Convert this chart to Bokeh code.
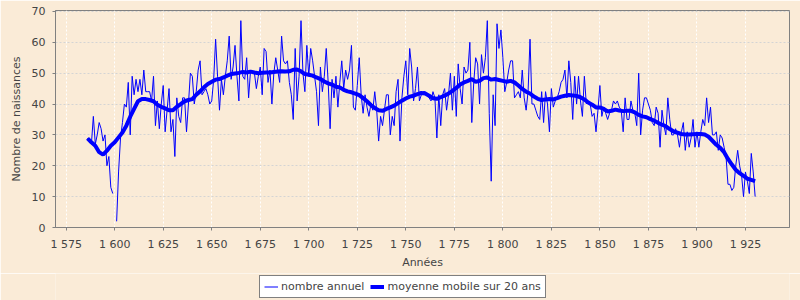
import math
from bokeh.plotting import figure
from bokeh.layouts import column
from bokeh.models import (ColumnDataSource, Range1d, FixedTicker, Legend, LegendItem)
from bokeh.embed import file_html
from bokeh.resources import INLINE

nan = float("nan")

# Annual number of births, 1586..1930 (1600 missing)
first_year = 1586
births = [
    29, 28, 27, 36,                              # 1586-1589
    27, 30, 34, 32, 28, 30, 20, 23, 13, 11,      # 1590s
    nan, 2, 18, 29, 34, 40, 39, 47, 30, 49,      # 1600s
    43, 48, 44, 48, 43, 51, 44, 44, 44, 41,      # 1610s
    49, 33, 41, 32, 40, 46, 31, 38, 45, 31,      # 1620s
    35, 23, 42, 36, 34, 42, 42, 31, 40, 50,      # 1630s
    49, 40, 44, 51, 54, 43, 44, 45, 43, 40,      # 1640s
    41, 48, 61, 49, 38, 48, 43, 49, 54, 62,      # 1650s
    48, 52, 59, 49, 41, 67, 49, 48, 55, 42,      # 1660s
    51, 50, 50, 45, 49, 52, 43, 58, 57, 47,      # 1670s
    51, 40, 50, 55, 51, 47, 62, 54, 53, 54,      # 1680s
    47, 43, 35, 58, 41, 49, 67, 50, 44, 59,      # 1690s
    49, 58, 54, 49, 44, 33, 52, 44, 49, 58,      # 1700s
    47, 32, 48, 42, 49, 39, 47, 54, 45, 51,      # 1710s
    48, 51, 59, 39, 38, 46, 55, 43, 37, 43,      # 1720s
    39, 36, 40, 38, 44, 38, 28, 36, 33, 38,      # 1730s
    43, 43, 30, 36, 33, 44, 48, 28, 42, 49,      # 1740s
    54, 43, 58, 52, 41, 45, 52, 41, 43, 44,      # 1750s
    44, 43, 42, 41, 44, 42, 29, 43, 33, 43,      # 1760s
    45, 38, 43, 50, 38, 49, 36, 53, 45, 40,      # 1770s
    52, 50, 51, 60, 34, 47, 55, 53, 40, 56,      # 1780s
    50, 55, 67, 37, 15, 43, 33, 66, 58, 64,      # 1790s
    55, 44, 47, 51, 54, 54, 42, 43, 44, 42,      # 1800s
    51, 42, 38, 44, 61, 40, 40, 38, 36, 35,      # 1810s
    44, 34, 44, 40, 31, 45, 39, 41, 42, 44,      # 1820s
    47, 48, 51, 42, 54, 47, 35, 49, 40, 49,      # 1830s
    41, 36, 49, 40, 41, 40, 36, 37, 31, 38,      # 1840s
    46, 36, 39, 37, 35, 37, 38, 41, 40, 41,      # 1850s
    39, 38, 31, 42, 35, 35, 41, 38, 37, 33,      # 1860s
    50, 30, 38, 42, 42, 40, 38, 34, 33, 39,      # 1870s
    37, 26, 38, 33, 30, 42, 35, 30, 30, 32,      # 1880s
    30, 26, 31, 34, 25, 31, 26, 29, 35, 26,      # 1890s
    31, 26, 31, 35, 33, 42, 34, 39, 30, 30,      # 1900s
    31, 25, 30, 29, 26, 23, 14, 14, 12, 13,      # 1910s
    20, 25, 20, 17, 10, 18, 15, 11, 24, 18,      # 1920s
    10,                                          # 1930
]
years = list(range(first_year, first_year + len(births)))

# 20-year moving average, read every second year
ma_years = list(range(1586, 1931, 2))
ma_values = [
    28.9, 27.6, 26.5, 24.4, 23.6, 24.9, 26.5, 27.6, 29.2, 30.8,
    33.0, 35.9, 38.4, 40.9, 41.6, 41.6, 41.3, 40.9, 39.8, 39.1,
    38.6, 38.0, 38.0, 39.1, 40.0, 40.9, 41.3, 41.6, 43.0, 44.1,
    45.4, 46.5, 47.2, 47.9, 48.1, 48.6, 49.2, 49.7, 49.9, 50.1,
    50.4, 50.2, 50.5, 50.2, 50.0, 50.1, 50.2, 50.2, 50.4, 50.5,
    50.6, 50.5, 50.6, 51.1, 51.2, 50.6, 49.7, 49.5, 49.2, 48.6,
    48.1, 47.3, 46.7, 46.3, 45.6, 45.4, 44.6, 44.1, 43.8, 43.4,
    42.9, 41.9, 40.9, 39.7, 38.7, 38.0, 37.8, 38.4, 38.9, 39.5,
    40.3, 41.1, 41.8, 42.4, 42.7, 43.2, 43.6, 43.4, 42.7, 41.9,
    41.7, 42.2, 42.7, 43.4, 44.3, 45.2, 46.3, 47.0, 47.5, 48.1,
    47.2, 47.5, 48.4, 48.6, 47.9, 48.1, 47.8, 47.5, 47.2, 47.5,
    47.0, 46.0, 44.9, 44.0, 43.4, 42.4, 41.7, 41.3, 41.5, 41.6,
    41.5, 41.9, 42.4, 42.7, 42.9, 42.8, 42.6, 42.2, 41.5, 40.5,
    39.8, 38.9, 38.9, 38.4, 37.6, 37.8, 38.2, 37.9, 37.7, 37.8,
    37.8, 37.3, 36.5, 36.0, 35.7, 35.1, 34.6, 33.9, 33.3, 32.8,
    31.9, 31.1, 30.7, 30.3, 30.1, 30.1, 30.2, 30.3, 30.3, 30.1,
    29.4, 28.1, 26.8, 25.8, 24.4, 22.2, 20.4, 18.7, 17.6, 16.7,
    15.8, 15.4, 15.0,
]

x_ticks = [1575, 1600, 1625, 1650, 1675, 1700, 1725, 1750, 1775, 1800, 1825, 1850, 1875, 1900, 1925]
x_tick_labels = ["1 575", "1 600", "1 625", "1 650", "1 675", "1 700", "1 725", "1 750",
                 "1 775", "1 800", "1 825", "1 850", "1 875", "1 900", "1 925"]
y_ticks = [0, 10, 20, 30, 40, 50, 60, 70]
series_labels = ["nombre annuel", "moyenne mobile sur 20 ans"]

BG = "#FAEBD7"
FONT = "DejaVu Sans"
TXT = "#444444"
GRAY = "#808080"
BLUE = "#0000FF"

p = figure(width=800, height=273, output_backend="svg", toolbar_location=None,
           x_range=Range1d(1569.5, 1947.7), y_range=Range1d(0, 70.3),
           min_border_left=55, min_border_right=11, min_border_top=10, min_border_bottom=46)
p.background_fill_color = BG
p.border_fill_color = BG
p.outline_line_color = GRAY
p.outline_line_width = 1

src = ColumnDataSource(dict(x=years, y=births))
r1 = p.line("x", "y", source=src, line_color=BLUE, line_width=1)
src2 = ColumnDataSource(dict(x=ma_years, y=ma_values))
r2 = p.line("x", "y", source=src2, line_color=BLUE, line_width=4)

p.xaxis.ticker = FixedTicker(ticks=x_ticks)
p.xaxis.major_label_overrides = {t: l for t, l in zip(x_ticks, x_tick_labels)}
p.yaxis.ticker = FixedTicker(ticks=y_ticks)
p.xaxis.axis_label = "Années"
p.yaxis.axis_label = "Nombre de naissances"

for ax in (p.xaxis[0], p.yaxis[0]):
    ax.axis_line_color = GRAY
    ax.major_tick_line_color = GRAY
    ax.major_tick_in = 0
    ax.major_tick_out = 3
    ax.minor_tick_line_color = None
    ax.major_label_text_font = FONT
    ax.major_label_text_font_size = "11px"
    ax.major_label_text_color = TXT
    ax.axis_label_text_font = FONT
    ax.axis_label_text_font_size = "11px"
    ax.axis_label_text_font_style = "normal"
    ax.axis_label_text_color = TXT
    ax.major_label_standoff = 7
p.xaxis.axis_label_standoff = 2
p.yaxis.axis_label_standoff = 6

p.xgrid.ticker = FixedTicker(ticks=x_ticks)
p.xgrid.grid_line_color = "#FFFFFF"
p.xgrid.grid_line_dash = "2 2"
p.ygrid.ticker = FixedTicker(ticks=y_ticks)
p.ygrid.grid_line_color = "#D4D4D4"
p.ygrid.grid_line_dash = "2 2"

# strip below the chart that holds the legend box (same series, out of its view range)
p2 = figure(width=800, height=27, output_backend="svg", toolbar_location=None,
            x_range=Range1d(0, 1), y_range=Range1d(0, 1),
            x_axis_type=None, y_axis_type=None,
            min_border_left=0, min_border_right=0, min_border_top=0, min_border_bottom=0)
p2.background_fill_color = BG
p2.border_fill_color = BG
p2.outline_line_color = None
p2.grid.visible = False
lr1 = p2.line("x", "y", source=src, line_color=BLUE, line_width=1)
lr2 = p2.line("x", "y", source=src2, line_color=BLUE, line_width=4)

legend = Legend(items=[LegendItem(label=series_labels[0], renderers=[lr1]),
                       LegendItem(label=series_labels[1], renderers=[lr2])],
                orientation="horizontal", location=(204, 2))
legend.label_text_font = FONT
legend.label_text_font_size = "11px"
legend.label_text_color = TXT
legend.glyph_width = 14
legend.glyph_height = 13
legend.label_height = 13
legend.label_standoff = 3
legend.spacing = 6
legend.padding = 4
legend.margin = 0
legend.border_line_color = "#000000"
legend.border_line_width = 1
legend.background_fill_color = "#FFFFFF"
legend.background_fill_alpha = 1.0
p2.add_layout(legend, "center")

layout = column(p, p2, spacing=0)
open("out.html", "w").write(file_html(layout, INLINE))
